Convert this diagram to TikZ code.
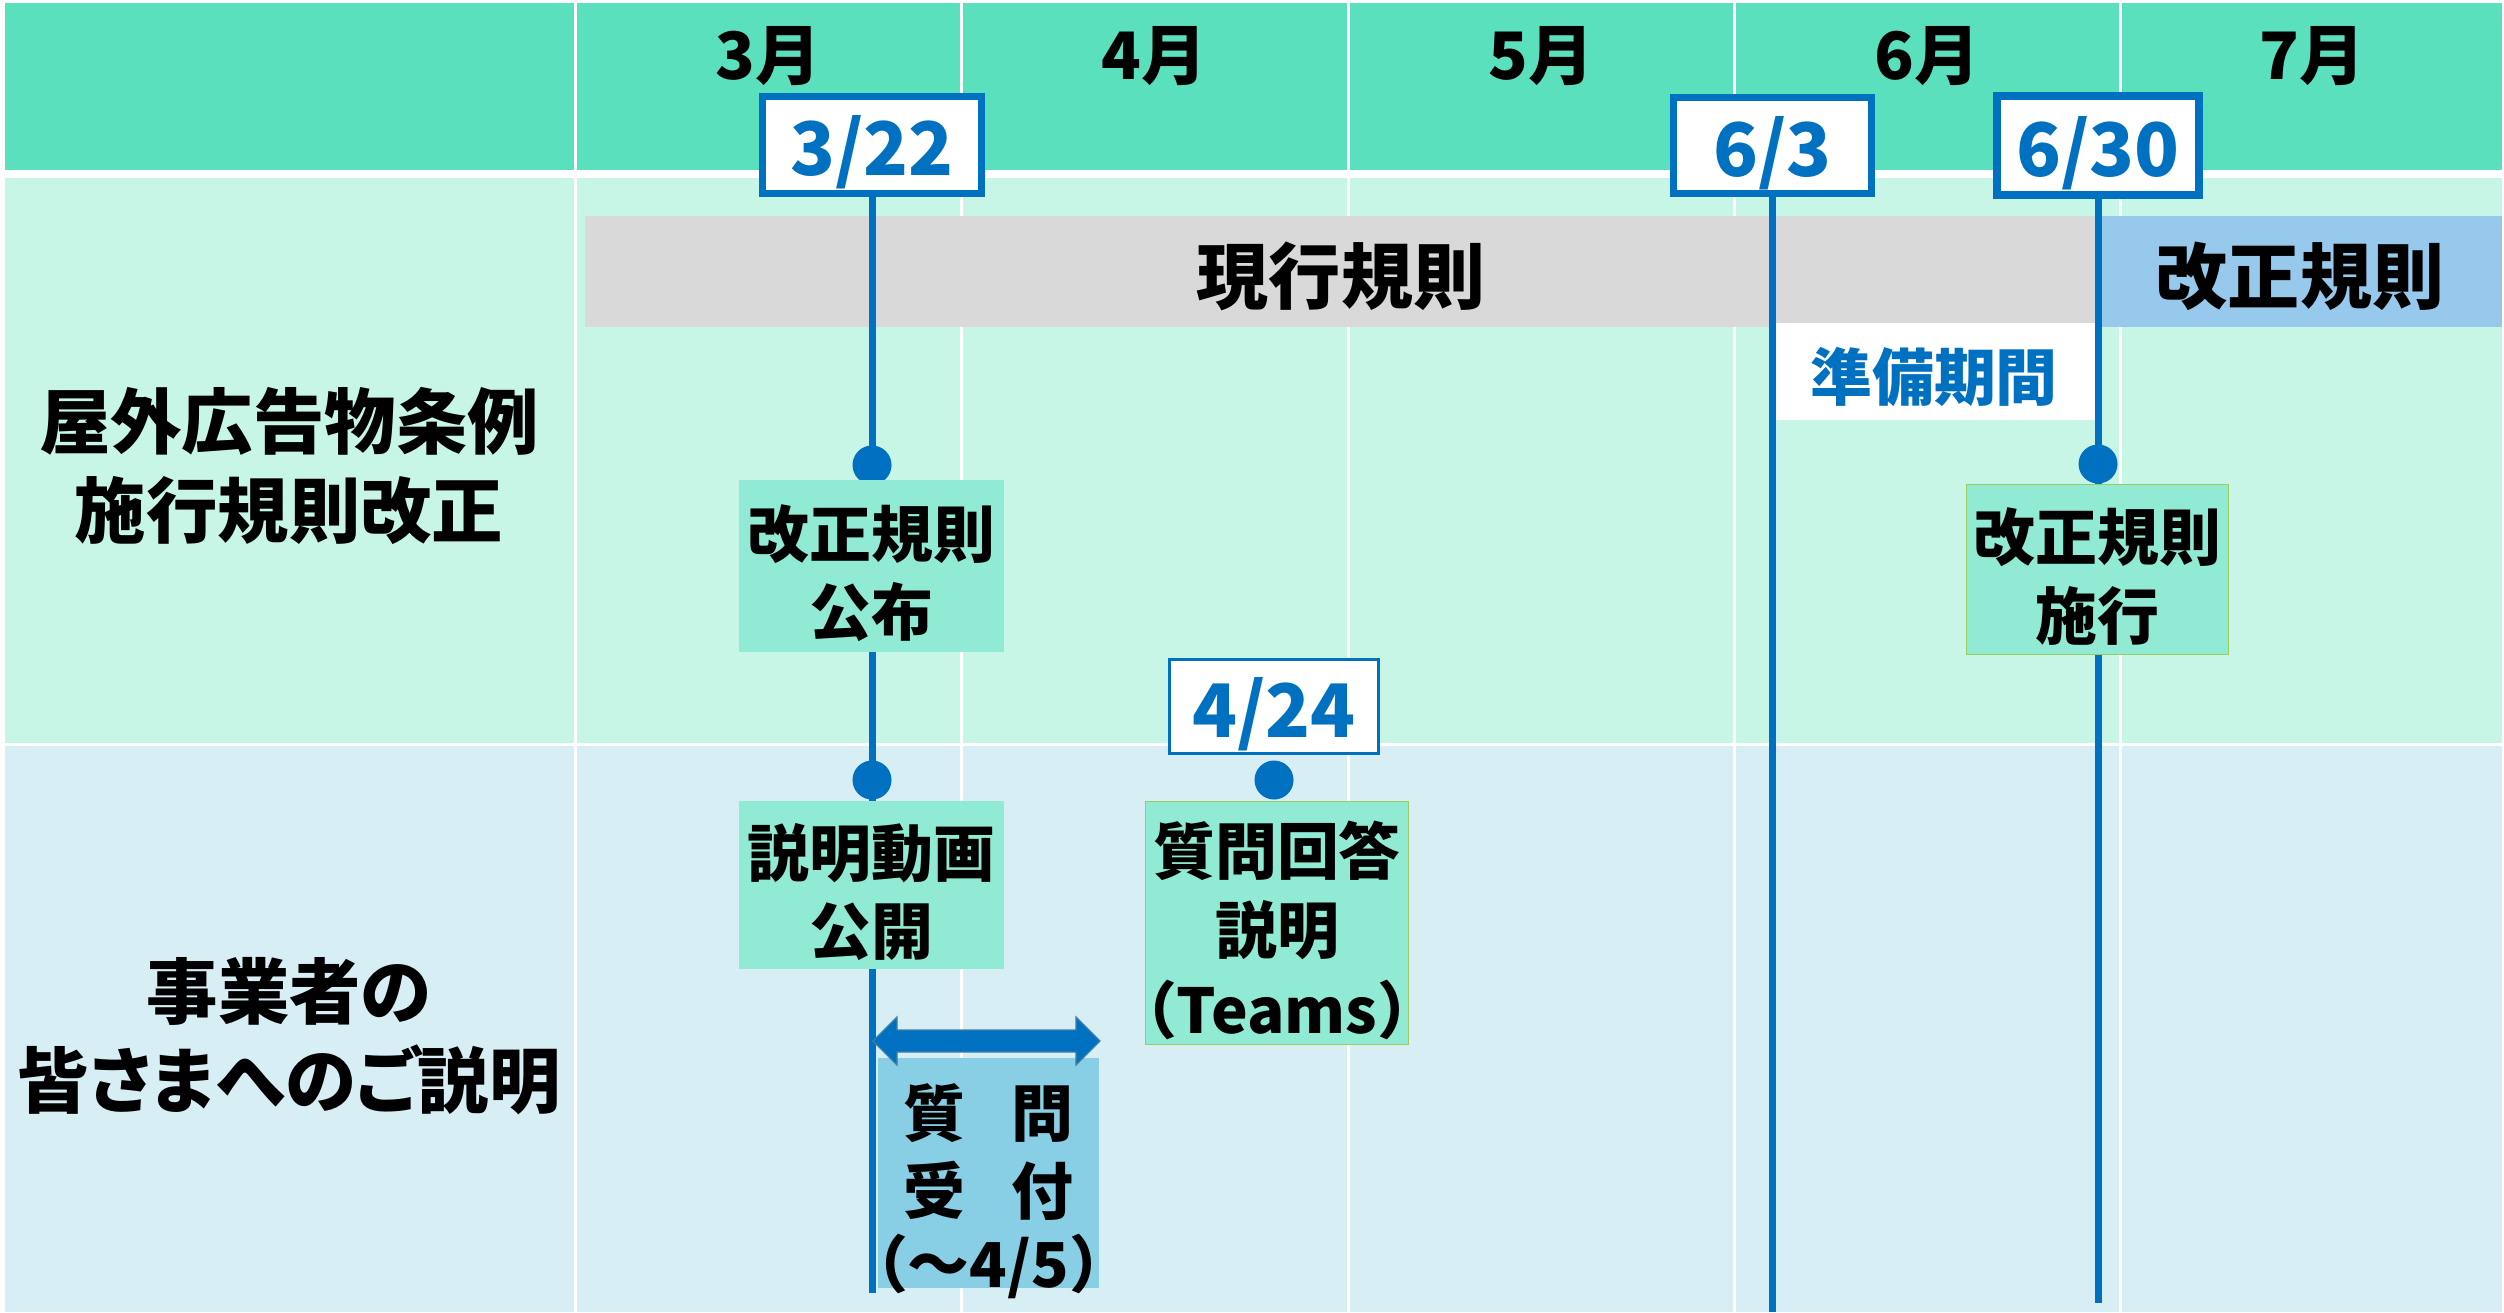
\documentclass[tikz,border=0pt]{standalone}
\usepackage{fontspec}
\usetikzlibrary{calc}
\setmainfont{Noto Sans CJK JP}
\newfontfamily\jpp{Noto Sans CJK JP}[RawFeature=+palt]
\definecolor{hdr}{HTML}{5BE0BE}
\definecolor{rowa}{HTML}{C7F5E6}
\definecolor{rowb}{HTML}{D8EEF5}
\definecolor{evfill}{HTML}{91EBD4}
\definecolor{qrfill}{HTML}{88CEE4}
\definecolor{barg}{HTML}{D9D9D9}
\definecolor{barb}{HTML}{97C9EC}
\definecolor{dblue}{HTML}{0070C0}
\definecolor{gline}{HTML}{9ACD5E}
\definecolor{aedge}{HTML}{3C7FA6}
\tikzset{
  monthlbl/.style={inner sep=0pt, font=\bfseries\fontsize{18.6pt}{20pt}\selectfont},
  datebox/.style={draw=dblue, fill=white, inner sep=0pt},
  datetxt/.style={text=dblue, inner sep=0pt, yshift=-0.075cm,
    font=\bfseries\fontsize{21pt}{24pt}\selectfont},
  vline/.style={draw=dblue, line width=0.07cm},
  evbox/.style={fill=evfill, inner sep=0pt},
  evtxt/.style={align=center, inner sep=0pt, yshift=-0.07cm,
    font=\bfseries\fontsize{17.6pt}{22.2pt}\selectfont},
  dotnode/.style={circle, fill=dblue, minimum size=0.39cm, inner sep=0pt},
  rowlbl/.style={align=center, inner sep=0pt, font=\bfseries\fontsize{20.3pt}{25.3pt}\selectfont},
  barlbl/.style={inner sep=0pt, font=\bfseries\fontsize{20.5pt}{24pt}\selectfont},
}
\begin{document}
\begin{tikzpicture}[x=0.01cm, y=-0.01cm]
\useasboundingbox (0,0) rectangle (2504,1312);
\fill[white] (0,0) rectangle (2504,1312);
% table rows
\fill[hdr] (5,3) rectangle (2502,170);
\fill[rowa] (5,178) rectangle (2502,743);
\fill[rowb] (5,746) rectangle (2502,1312);
\foreach \xx in {575,961,1348,1734,2120}
  \draw[white, line width=0.03cm] (\xx,3) -- (\xx,1312);
% month labels
\node[monthlbl] (m3) at (768,56) {3月};
\node[monthlbl] (m4) at (1154,56) {4月};
\node[monthlbl] (m5) at (1541,56) {5月};
\node[monthlbl] (m6) at (1927,56) {6月};
\node[monthlbl] (m7) at (2312,56) {7月};
% row labels
\node[rowlbl] (lab1) at (289,466) {屋外広告物条例\\施行規則改正};
\node[rowlbl] (lab2) at (289,1036) {{\jpp 事業者の}\\{\jpp 皆さまへのご説明}};
% bars
\node[fill=barg, minimum width=15.12cm, minimum height=1.11cm, inner sep=0pt] (curbar) at (1341,271.5) {};
\node[barlbl] (curtxt) at (1341,276) {現行規則};
\node[fill=barb, minimum width=4.05cm, minimum height=1.11cm, inner sep=0pt] (newbar) at (2299.5,271.5) {};
\node[barlbl] (newtxt) at (2300,276) {改正規則};
\node[fill=white, minimum width=3.20cm, minimum height=0.97cm, inner sep=0pt] (prep) at (1936,371.5) {};
\node[inner sep=0pt, text=dblue, font=\bfseries\fontsize{17.6pt}{20pt}\selectfont] (preptxt) at (1934,377) {準備期間};
% end coordinates of the vertical lines
\coordinate (e322) at (872,1293);
\coordinate (e63) at (1772.5,1312);
\coordinate (e630) at (2098,1303);
% date boxes
\node[datebox, line width=0.07cm, minimum width=2.19cm, minimum height=0.97cm] (d322) at (872,145) {};
\node[datebox, line width=0.07cm, minimum width=1.98cm, minimum height=0.96cm] (d63) at (1772.5,145.5) {};
\node[datebox, line width=0.08cm, minimum width=2.02cm, minimum height=0.99cm] (d630) at (2098,145.5) {};
\node[datebox, line width=0.03cm, minimum width=2.09cm, minimum height=0.94cm] (d424) at (1274,706.5) {};
\node[datetxt] (t322) at (d322) {3/22};
\node[datetxt] (t63) at (d63) {6/3};
\node[datetxt] (t630) at (d630) {6/30};
\node[datetxt] (t424) at (d424) {4/24};
% vertical lines
\draw[vline] (d322.south) -- (e322);
\draw[vline] (d63.south) -- (e63);
\draw[vline] (d630.south) -- (e630);
% dots
\node[dotnode] (p1) at (872,465) {};
\node[dotnode] (p2) at (872,780) {};
\node[dotnode] (p3) at (1274,780) {};
\node[dotnode] (p4) at (2098,464) {};
% event boxes
\node[evbox, minimum width=2.65cm, minimum height=1.72cm] (pub) at (871.5,566) {};
\node[evtxt] (pubt) at (pub) {改正規則\\公布};
\node[evbox, minimum width=2.65cm, minimum height=1.68cm] (video) at (871.5,885) {};
\node[evtxt] (videot) at (video) {説明動画\\公開};
\node[evbox, draw=gline, line width=0.015cm, minimum width=2.63cm, minimum height=2.43cm] (qa) at (1277,923) {};
\node[evtxt, font=\bfseries\fontsize{17.6pt}{22.6pt}\selectfont] (qat) at (qa) {質問回答\\説明\\（Teams）};
\node[evbox, draw=gline, line width=0.015cm, minimum width=2.62cm, minimum height=1.70cm] (enf) at (2097.5,569.5) {};
\node[evtxt] (enft) at (enf) {改正規則\\施行};
\node[evbox, fill=qrfill, minimum width=2.21cm, minimum height=2.30cm] (qr) at (988.5,1173) {};
\node[evtxt, yshift=-0.11cm] (qrt) at (qr) {質\hspace{0.75em}問\\受\hspace{0.75em}付\\[-0.08em]（～4/5）};
% double arrow
\coordinate (aL) at (873,1041);
\coordinate (aR) at (1100,1041);
\filldraw[fill=dblue, draw=aedge, line width=0.012cm]
  (aL) -- ++(24,-24) -- ++(0,13) -- ($(aR)+(-24,-11)$) -- ++(0,-13) -- (aR)
  -- ++(-24,24) -- ++(0,-13) -- ($(aL)+(24,11)$) -- ++(0,13) -- cycle;
\end{tikzpicture}
\end{document}
